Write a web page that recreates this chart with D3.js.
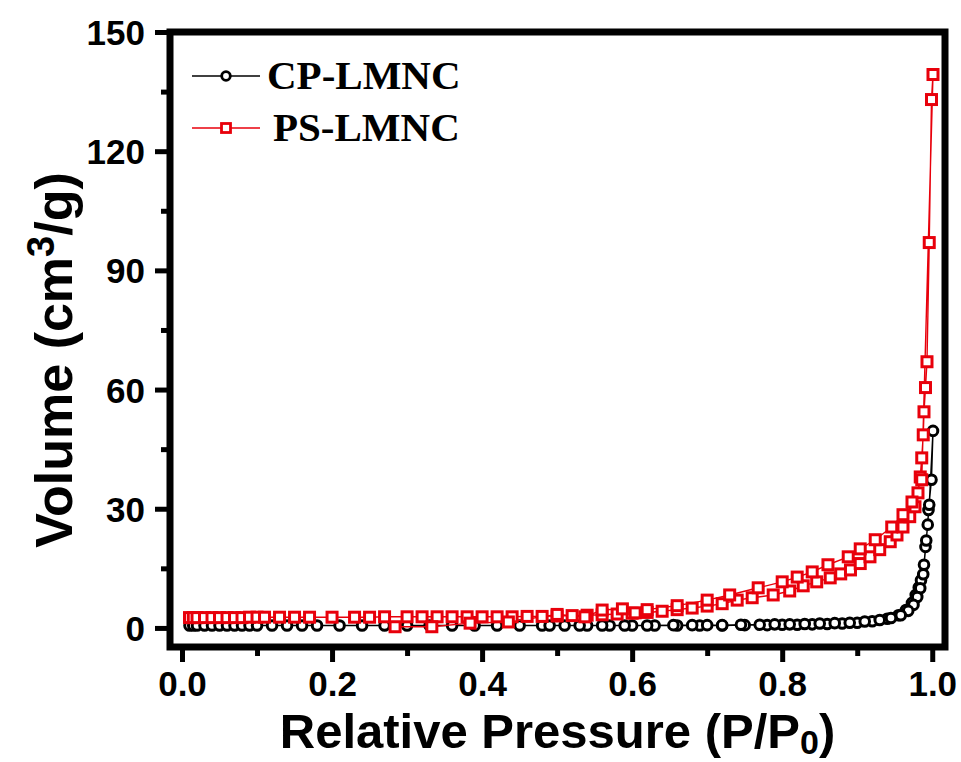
<!DOCTYPE html>
<html>
<head>
<meta charset="utf-8">
<script src="https://cdn.jsdelivr.net/npm/d3@7"></script>
<style>
  body { margin: 0; background: #fff; }
  svg { display: block; }
</style>
</head>
<body>
<svg id="chart"></svg>
<script>
// Chart size
const width = 961;
const height = 762;
const margin = { top: 32, right: 16, bottom: 115, left: 170 };

// Data: N2 isotherms, adsorption then desorption
const cpP = [0.01, 0.015, 0.02, 0.03, 0.04, 0.05, 0.06, 0.07, 0.08, 0.09, 0.10, 0.12, 0.14, 0.16, 0.18,
  0.21, 0.24, 0.27, 0.30, 0.33, 0.36, 0.39, 0.42, 0.45, 0.48, 0.51, 0.54, 0.57, 0.60, 0.63, 0.66,
  0.69, 0.72, 0.75, 0.78, 0.80, 0.82, 0.84, 0.86, 0.88, 0.90, 0.92, 0.94, 0.955, 0.965, 0.973,
  0.978, 0.982, 0.985, 0.989, 0.991, 0.994, 0.995, 0.999, 1.001,
  0.996, 0.992, 0.988, 0.984, 0.980, 0.975, 0.968, 0.958, 0.945, 0.93, 0.91, 0.89, 0.87, 0.85,
  0.83, 0.81, 0.79, 0.77, 0.745, 0.72, 0.70, 0.68, 0.655, 0.62, 0.59, 0.56, 0.53, 0.49];
const cpV = [0.6, 0.6, 0.6, 0.6, 0.6, 0.6, 0.6, 0.6, 0.6, 0.6, 0.6, 0.6, 0.6, 0.6, 0.6,
  0.6, 0.6, 0.6, 0.6, 0.6, 0.6, 0.6, 0.6, 0.6, 0.6, 0.6, 0.6, 0.6, 0.6, 0.6, 0.6,
  0.6, 0.6, 0.7, 0.7, 0.8, 0.8, 0.9, 1.0, 1.1, 1.3, 1.7, 2.3, 3.2, 4.5, 6.3,
  8.3, 10.2, 12.0, 15.9, 20.4, 26.0, 29.7, 37.3, 49.6,
  31.0, 22.0, 13.5, 10.0, 7.8, 5.8, 4.3, 3.2, 2.5, 2.0, 1.6, 1.3, 1.2, 1.1,
  1.0, 0.9, 0.9, 0.8, 0.8, 0.7, 0.7, 0.7, 0.7, 0.6, 0.6, 0.6, 0.6, 0.6];

const psP = [0.01, 0.015, 0.02, 0.03, 0.04, 0.05, 0.06, 0.07, 0.08, 0.09, 0.10, 0.11, 0.13, 0.15,
  0.17, 0.20, 0.23, 0.25, 0.27, 0.30, 0.32, 0.34, 0.36, 0.38, 0.40, 0.42, 0.44, 0.46, 0.48, 0.50,
  0.52, 0.54, 0.56, 0.58, 0.60, 0.62, 0.64, 0.66, 0.68, 0.70, 0.72, 0.74, 0.76, 0.788, 0.81,
  0.828, 0.846, 0.864, 0.878, 0.891, 0.904, 0.917, 0.93, 0.944, 0.953, 0.961, 0.97, 0.977,
  0.981, 0.984, 0.986, 0.988, 0.989, 0.991, 0.993, 0.996, 0.999, 1.001,
  0.986, 0.973, 0.961, 0.946, 0.924, 0.904, 0.888, 0.861, 0.84, 0.82, 0.80, 0.768, 0.73,
  0.70, 0.66, 0.62, 0.604, 0.587, 0.56, 0.537, 0.50, 0.435, 0.384, 0.333, 0.284];
const psV = [2.6, 2.6, 2.6, 2.6, 2.6, 2.6, 2.6, 2.6, 2.6, 2.7, 2.7, 2.7, 2.7, 2.7,
  2.7, 2.7, 2.7, 2.7, 2.8, 2.8, 2.8, 2.8, 2.8, 2.8, 2.8, 2.8, 2.8, 2.9, 2.9, 3.0,
  3.1, 3.2, 3.3, 3.5, 3.7, 3.9, 4.2, 4.6, 5.0, 5.5, 6.1, 7.0, 7.6, 8.3, 9.3,
  10.6, 11.6, 12.6, 13.6, 14.6, 16.2, 17.9, 19.7, 21.7, 23.4, 25.4, 28.0, 30.5,
  34.0, 38.0, 42.8, 48.6, 54.4, 60.5, 67.0, 97.0, 133.0, 139.3,
  37.3, 31.7, 28.5, 25.4, 22.2, 19.9, 17.9, 15.9, 14.1, 12.8, 11.6, 10.1, 8.3,
  7.0, 5.6, 4.6, 3.8, 4.8, 4.5, 2.8, 3.4, 1.5, 1.2, 0.3, 0.3];

// Axis ticks
const xTicks = [0.0, 0.2, 0.4, 0.6, 0.8, 1.0];
const xMinor = [0.1, 0.3, 0.5, 0.7, 0.9];
const yTicks = [0, 30, 60, 90, 120, 150];
const yMinor = [15, 45, 75, 105, 135];

const cp = cpP.map((p, i) => ({ p, v: cpV[i] }));
const ps = psP.map((p, i) => ({ p, v: psV[i] }));

const svg = d3.select("#chart")
  .attr("width", width)
  .attr("height", height);

// Scales
const x = d3.scaleLinear()
  .domain([-0.016, 1.017])
  .range([margin.left, width - margin.right]);

const y = d3.scaleLinear()
  .domain([-4.8, 150])
  .range([height - margin.bottom, margin.top]);

const x0 = margin.left, x1 = width - margin.right;
const y0 = height - margin.bottom, y1 = margin.top;

// Axes
function styleAxis(g, size) {
  g.select(".domain").remove();
  g.selectAll(".tick line").attr("stroke", "#000").attr("stroke-width", 5);
  g.selectAll(".tick text")
    .attr("fill", "#000")
    .style("font-family", "'Liberation Sans', Arial, sans-serif")
    .style("font-weight", "bold")
    .style("font-size", size + "px");
}

svg.append("g")
  .attr("transform", `translate(0, ${y0})`)
  .call(d3.axisBottom(x).tickValues(xTicks).tickFormat(d3.format(".1f")).tickSize(15).tickPadding(9))
  .call(g => styleAxis(g, 35));

svg.append("g")
  .attr("transform", `translate(0, ${y0})`)
  .call(d3.axisBottom(x).tickValues(xMinor).tickFormat("").tickSize(9))
  .call(g => styleAxis(g, 35));

svg.append("g")
  .attr("transform", `translate(${x0}, 0)`)
  .call(d3.axisLeft(y).tickValues(yTicks).tickFormat(d3.format("d")).tickSize(15).tickPadding(10))
  .call(g => styleAxis(g, 35))
  .selectAll(".tick text").attr("dy", "0.36em");

svg.append("g")
  .attr("transform", `translate(${x0}, 0)`)
  .call(d3.axisLeft(y).tickValues(yMinor).tickFormat("").tickSize(9))
  .call(g => styleAxis(g, 35));

// Frame
svg.append("rect")
  .attr("x", x0)
  .attr("y", y1)
  .attr("width", x1 - x0)
  .attr("height", y0 - y1)
  .attr("fill", "none")
  .attr("stroke", "#000")
  .attr("stroke-width", 7);

// Series
const line = d3.line().x(d => x(d.p)).y(d => y(d.v));

svg.append("path")
  .datum(cp)
  .attr("d", line)
  .attr("fill", "none")
  .attr("stroke", "#000")
  .attr("stroke-width", 1.4);

svg.selectAll(".cp")
  .data(cp)
  .enter()
  .append("circle")
  .attr("class", "cp")
  .attr("cx", d => x(d.p))
  .attr("cy", d => y(d.v))
  .attr("r", 4.8)
  .attr("fill", "#fff")
  .attr("stroke", "#000")
  .attr("stroke-width", 3);

svg.append("path")
  .datum(ps)
  .attr("d", line)
  .attr("fill", "none")
  .attr("stroke", "#e8000b")
  .attr("stroke-width", 1.4);

svg.selectAll(".ps")
  .data(ps)
  .enter()
  .append("rect")
  .attr("class", "ps")
  .attr("x", d => x(d.p) - 5)
  .attr("y", d => y(d.v) - 5)
  .attr("width", 10)
  .attr("height", 10)
  .attr("fill", "#fff")
  .attr("stroke", "#e8000b")
  .attr("stroke-width", 3);

// Legend
const legend = svg.append("g");
const legendItems = [
  { name: "CP-LMNC", color: "#000", shape: "circle", yy: 76, tx: 267, ty: 89 },
  { name: "PS-LMNC", color: "#e8000b", shape: "square", yy: 128, tx: 273, ty: 141 }
];
legendItems.forEach(d => {
  legend.append("line")
    .attr("x1", 192).attr("x2", 260)
    .attr("y1", d.yy).attr("y2", d.yy)
    .attr("stroke", d.color).attr("stroke-width", 1.3);
  if (d.shape === "circle") {
    legend.append("circle")
      .attr("cx", 226).attr("cy", d.yy).attr("r", 4.3)
      .attr("fill", "#fff").attr("stroke", d.color).attr("stroke-width", 2.8);
  } else {
    legend.append("rect")
      .attr("x", 221.5).attr("y", d.yy - 4.5).attr("width", 9).attr("height", 9)
      .attr("fill", "#fff").attr("stroke", d.color).attr("stroke-width", 2.8);
  }
  legend.append("text")
    .attr("x", d.tx).attr("y", d.ty)
    .style("font-family", "'Liberation Serif', 'Times New Roman', serif")
    .style("font-weight", "bold")
    .style("font-size", "41px")
    .text(d.name);
});

// Axis titles
const xTitle = svg.append("text")
  .attr("x", (x0 + x1) / 2)
  .attr("y", 748)
  .attr("text-anchor", "middle")
  .style("font-family", "'Liberation Sans', Arial, sans-serif")
  .style("font-weight", "bold")
  .style("font-size", "49px");
xTitle.append("tspan").text("Relative Pressure (P/P");
xTitle.append("tspan").attr("dy", 6).style("font-size", "34px").text("0");
xTitle.append("tspan").attr("dy", -6).text(")");

const yTitle = svg.append("text")
  .attr("transform", `translate(72, 360) rotate(-90)`)
  .attr("text-anchor", "middle")
  .style("font-family", "'Liberation Sans', Arial, sans-serif")
  .style("font-weight", "bold")
  .style("font-size", "52px");
yTitle.append("tspan").text("Volume (cm");
yTitle.append("tspan").attr("dy", -18).style("font-size", "38px").text("3");
yTitle.append("tspan").attr("dy", 18).text("/g)");
</script>
</body>
</html>
